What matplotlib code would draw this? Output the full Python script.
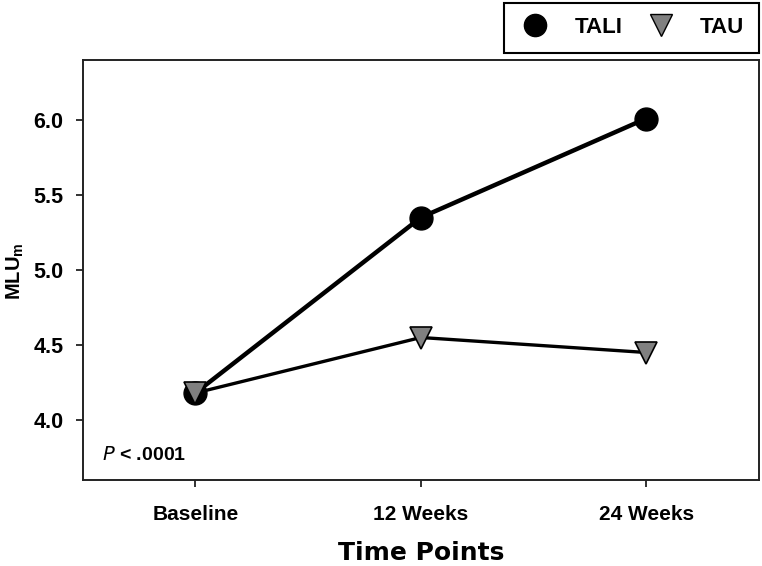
import matplotlib
matplotlib.use("Agg")
import matplotlib.pyplot as plt
from matplotlib.lines import Line2D

plt.rcParams['font.family'] = ['Liberation Sans', 'DejaVu Sans']

# data
time_points = ['Baseline', '12 Weeks', '24 Weeks']
tali = [4.18, 5.35, 6.01]
tau = [4.18, 4.55, 4.45]
y_ticks = [4.0, 4.5, 5.0, 5.5, 6.0]

fig = plt.figure(figsize=(7.62, 5.66), dpi=100)
ax = fig.add_axes([82.7 / 762, 86 / 566, (759 - 82.7) / 762, (480 - 60) / 566])

x = list(range(len(time_points)))
ax.plot(x, tali, color='black', lw=3.2, marker='o', ms=16.5,
        markerfacecolor='black', markeredgecolor='black', zorder=3)
ax.plot(x, tau, color='black', lw=2.4, marker='v', ms=16,
        markerfacecolor='#808080', markeredgecolor='black', markeredgewidth=1.2, zorder=4)

ax.set_xlim(-0.5, 2.5)
ax.set_ylim(3.6, 6.4)
ax.set_xticks(x)
ax.set_xticklabels(time_points, fontsize=15, fontweight='bold')
ax.set_yticks(y_ticks)
ax.set_yticklabels(['%.1f' % v for v in y_ticks], fontsize=15.5, fontweight='bold')
ax.tick_params(direction='out', length=5, width=1.3, color='#222222')
ax.tick_params(axis='x', pad=13)
ax.tick_params(axis='y', pad=9)
for s in ax.spines.values():
    s.set_linewidth(1.4)
    s.set_color('#222222')

ax.set_ylabel(r'MLU$_{\mathregular{m}}$', fontsize=14.5, fontweight='bold', va='center')
ax.yaxis.set_label_coords((15 - 82.7) / 676.3, 0.5 - (271 - 270) / 420)
ax.set_xlabel('Time Points', fontsize=18, fontweight='bold', family='DejaVu Sans', labelpad=12)

fig.text(102 / 762, 1 - 455 / 566, r'$\mathit{P}$ < .0001', fontsize=14, fontweight='bold',
         va='center', ha='left')

handles = [
    Line2D([], [], ls='none', marker='o', ms=16, markerfacecolor='black', markeredgecolor='black'),
    Line2D([], [], ls='none', marker='v', ms=16, markerfacecolor='#808080', markeredgecolor='black'),
]
leg = fig.legend(handles, ['TALI', 'TAU'], loc='upper right',
                 bbox_to_anchor=(758.7 / 762, 1 - 2.7 / 566), ncol=2,
                 fancybox=False, edgecolor='black', framealpha=1,
                 prop={'size': 16, 'weight': 'bold'}, handlelength=1.5,
                 handletextpad=1.0, columnspacing=1.0, borderpad=0.65, borderaxespad=0)
leg.get_frame().set_linewidth(1.5)

fig.savefig('out.png', dpi=100)
